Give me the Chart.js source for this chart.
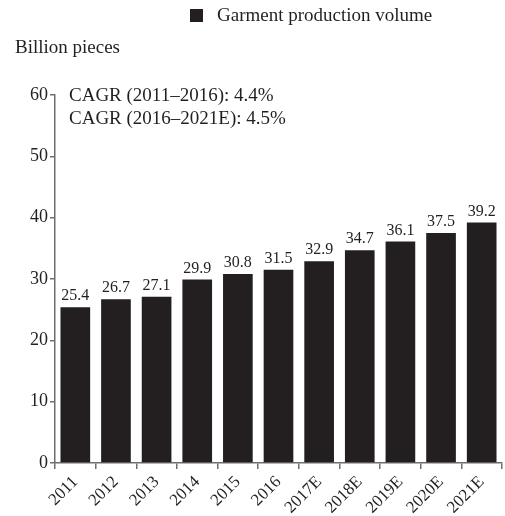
<!DOCTYPE html>
<html>
<head>
<meta charset="utf-8">
<script src="https://cdn.jsdelivr.net/npm/chart.js@4"></script>
<style>
    html, body { margin: 0; padding: 0; background: #fff; }
    #wrap { width: 505px; height: 516px; }
</style>
</head>
<body>
<div id="wrap"><canvas id="chartProduccion" width="505" height="516"></canvas></div>
<script>
// datos
const anios = ['2011', '2012', '2013', '2014', '2015', '2016', '2017E', '2018E', '2019E', '2020E', '2021E'];
const volumen = [25.4, 26.7, 27.1, 29.9, 30.8, 31.5, 32.9, 34.7, 36.1, 37.5, 39.2];
const ticksY = [0, 10, 20, 30, 40, 50, 60];
const nombreSerie = 'Garment production volume';
const unidad = 'Billion pieces';
const notasCagr = ['CAGR (2011\u20132016): 4.4%', 'CAGR (2016\u20132021E): 4.5%'];

const FUENTE = "'Liberation Serif', 'DejaVu Serif', serif";
const NEGRO = '#231f20';
const GRIS = '#6f6f6f';

// etiquetas de valor, leyenda y textos sueltos
const textosPlugin = {
    id: 'textos',
    afterDatasetsDraw(chart) {
        const ctx = chart.ctx;
        const meta = chart.getDatasetMeta(0);
        ctx.save();
        ctx.fillStyle = NEGRO;
        ctx.font = '16px ' + FUENTE;
        ctx.textAlign = 'center';
        ctx.textBaseline = 'alphabetic';
        meta.data.forEach((barra, i) => {
            ctx.fillText(volumen[i].toFixed(1), barra.x, barra.y - 7);
        });

        // leyenda
        ctx.fillRect(190, 9, 13, 13);
        ctx.font = '19px ' + FUENTE;
        ctx.textAlign = 'left';
        ctx.textBaseline = 'middle';
        ctx.fillText(nombreSerie, 217, 16);

        // titulo eje y
        ctx.fillText(unidad, 15, 48);

        // notas CAGR
        ctx.fillText(notasCagr[0], 69, 96);
        ctx.fillText(notasCagr[1], 69, 119);
        ctx.restore();
    }
};

new Chart(document.getElementById('chartProduccion'), {
    type: 'bar',
    data: {
        labels: anios,
        datasets: [{
            label: nombreSerie,
            data: volumen,
            backgroundColor: NEGRO,
            borderWidth: 0,
            barPercentage: 0.73,
            categoryPercentage: 1
        }]
    },
    options: {
        responsive: false,
        animation: false,
        layout: { padding: { top: 95, right: 3, left: 0, bottom: 0 } },
        plugins: {
            legend: { display: false },
            tooltip: { enabled: false }
        },
        scales: {
            x: {
                afterFit: scale => { scale.height = 53; },
                grid: {
                    display: true,
                    drawOnChartArea: false,
                    offset: true,
                    color: GRIS,
                    lineWidth: 1.5,
                    tickLength: 6
                },
                border: { display: true, color: GRIS, width: 1.5 },
                ticks: {
                    color: NEGRO,
                    font: { family: FUENTE, size: 17 },
                    minRotation: 45,
                    maxRotation: 45,
                    padding: 3
                }
            },
            y: {
                min: 0,
                max: 60,
                afterFit: scale => { scale.width = 55; },
                afterBuildTicks: scale => { scale.ticks = ticksY.map(v => ({ value: v })); },
                grid: {
                    display: true,
                    drawOnChartArea: false,
                    color: GRIS,
                    lineWidth: 1.5,
                    tickLength: 5
                },
                border: { display: true, color: GRIS, width: 1.5 },
                ticks: {
                    color: NEGRO,
                    font: { family: FUENTE, size: 18 },
                    padding: 2
                }
            }
        }
    },
    plugins: [textosPlugin]
});
</script>
</body>
</html>
